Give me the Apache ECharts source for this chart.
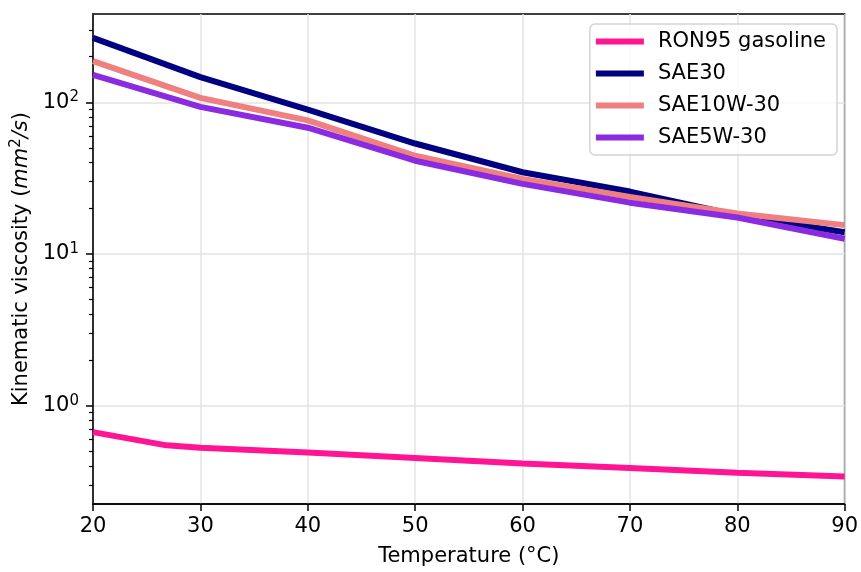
<!DOCTYPE html>
<html>
<head>
<meta charset="utf-8">
<script src="https://cdn.jsdelivr.net/npm/echarts@6/dist/echarts.min.js"></script>
<style>
  html, body { margin: 0; padding: 0; background: #fff; }
  #chart { width: 861px; height: 572px; }
</style>
</head>
<body>
<div id="chart"></div>
<script>
// Kinematic viscosity vs temperature
var temps = [20, 30, 40, 50, 60, 70, 80, 90];
var gasolineTemps = [20, 26.85, 30, 40, 50, 60, 70, 80, 90];
var gasoline = [0.67, 0.548, 0.529, 0.491, 0.453, 0.416, 0.388, 0.362, 0.342];
var sae30 = [266, 146.5, 89.6, 53.5, 34.6, 25.8, 18.0, 13.9];
var sae10w30 = [187, 107, 76, 44.4, 31.3, 23.8, 18.5, 15.5];
var sae5w30 = [151.6, 93.3, 68, 41.2, 29, 21.8, 17.4, 12.6];
var majorTicks = [1, 10, 100];
var minorTicks = [0.3, 0.4, 0.5, 0.6, 0.7, 0.8, 0.9, 2, 3, 4, 5, 6, 7, 8, 9,
                  20, 30, 40, 50, 60, 70, 80, 90, 200, 300];

function pairs(xs, ys) {
    return xs.map(function (x, i) { return [x, ys[i]]; });
}

var font = 'DejaVu Sans';
var dom = document.getElementById('chart');
var myChart = echarts.init(dom);

var option = {
    animation: false,
    textStyle: { fontFamily: font },
    grid: {
        left: 93, right: 14, top: 14, bottom: 63,
        show: true, borderColor: '#000', borderWidth: 1.5,
        backgroundColor: 'transparent'
    },
    legend: {
        orient: 'vertical',
        right: 24,
        top: 24,
        icon: 'rect',
        itemWidth: 48,
        itemHeight: 6,
        itemGap: 11,
        padding: [7, 11, 7, 6],
        backgroundColor: 'rgba(255,255,255,0.8)',
        borderColor: '#d4d4d4',
        borderWidth: 1.5,
        borderRadius: 5,
        textStyle: { fontFamily: font, fontSize: 21, lineHeight: 21, color: '#000', padding: [0, 0, 0, 9] },
        data: ['RON95 gasoline', 'SAE30', 'SAE10W-30', 'SAE5W-30']
    },
    xAxis: {
        type: 'value',
        min: 20, max: 90, interval: 10,
        name: 'Temperature (°C)',
        nameLocation: 'middle',
        nameGap: 42,
        nameTextStyle: { fontFamily: font, fontSize: 21, color: '#000' },
        axisLine: { lineStyle: { color: '#000', width: 1.5 } },
        axisTick: { length: 7, lineStyle: { color: '#000', width: 1.5 } },
        axisLabel: { margin: 12, fontFamily: font, fontSize: 21, color: '#000' },
        splitLine: { show: true, lineStyle: { color: '#e3e3e3', width: 1.5 } }
    },
    yAxis: [
        {
            type: 'log',
            logBase: 10,
            min: 0.225,
            max: 382,
            name: '{n|Kinematic viscosity (}{i|mm}{s|2}{i|/s}{n|)}',
            nameLocation: 'middle',
            nameGap: 58,
            nameRotate: 90,
            nameTextStyle: {
                rich: {
                    n: { fontFamily: font, fontSize: 21, color: '#000' },
                    i: { fontFamily: font, fontSize: 21, fontStyle: 'italic', color: '#000' },
                    s: { fontFamily: font, fontSize: 15, color: '#000', padding: [0, 0, 10, 0] }
                }
            },
            axisLine: { show: true, lineStyle: { color: '#000', width: 1.5 } },
            axisTick: { show: true, length: 7, customValues: majorTicks, lineStyle: { color: '#000', width: 1.5 } },
            axisLabel: {
                margin: 14,
                customValues: majorTicks,
                formatter: function (v) {
                    return '{b|10}{s|' + Math.round(Math.log10(v)) + '}';
                },
                rich: {
                    b: { fontFamily: font, fontSize: 21, color: '#000' },
                    s: { fontFamily: font, fontSize: 15, color: '#000', padding: [0, 0, 10, 0] }
                }
            },
            splitLine: { show: true, lineStyle: { color: '#e3e3e3', width: 1.5 } }
        },
        {
            type: 'log',
            logBase: 10,
            min: 0.225,
            max: 382,
            position: 'left',
            axisLine: { show: false },
            axisTick: { show: true, length: 4, customValues: minorTicks, lineStyle: { color: '#000', width: 1.2 } },
            axisLabel: { show: false },
            splitLine: { show: false }
        }
    ],
    series: [
        {
            name: 'RON95 gasoline', type: 'line', yAxisIndex: 0,
            showSymbol: false, symbol: 'none',
            lineStyle: { color: '#ff1493', width: 6 },
            itemStyle: { color: '#ff1493' },
            data: pairs(gasolineTemps, gasoline)
        },
        {
            name: 'SAE30', type: 'line', yAxisIndex: 0,
            showSymbol: false, symbol: 'none',
            lineStyle: { color: '#000080', width: 6 },
            itemStyle: { color: '#000080' },
            data: pairs(temps, sae30)
        },
        {
            name: 'SAE10W-30', type: 'line', yAxisIndex: 0,
            showSymbol: false, symbol: 'none',
            lineStyle: { color: '#f08080', width: 6 },
            itemStyle: { color: '#f08080' },
            data: pairs(temps, sae10w30)
        },
        {
            name: 'SAE5W-30', type: 'line', yAxisIndex: 0,
            showSymbol: false, symbol: 'none',
            lineStyle: { color: '#8a2be2', width: 6 },
            itemStyle: { color: '#8a2be2' },
            data: pairs(temps, sae5w30)
        }
    ]
};

if (option && typeof option === "object") {
    myChart.setOption(option, true);
}
</script>
</body>
</html>
